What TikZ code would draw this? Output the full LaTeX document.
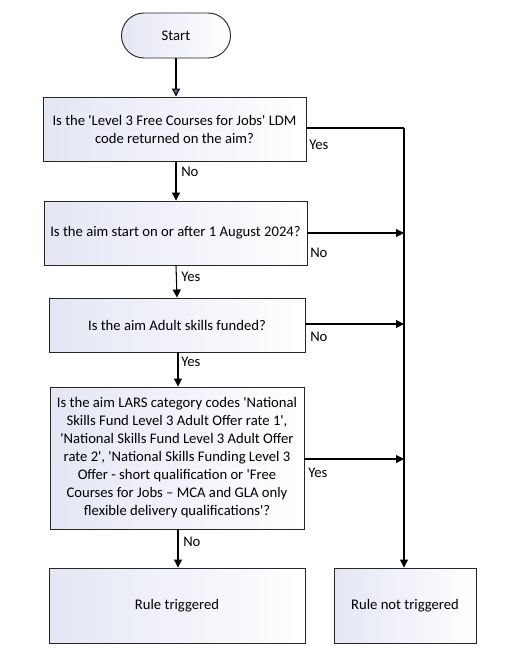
\documentclass[tikz,border=0pt]{standalone}
\usepackage{fontspec}
\setmainfont{Carlito}
\usetikzlibrary{arrows.meta,shapes.misc,calc}
\definecolor{boxtl}{HTML}{E4E6F4}
\definecolor{tipblue}{HTML}{4A6AA8}
\newcommand{\sq}{\textquotesingle}
\tikzset{
  base/.style={draw=black!85, line width=0.7pt, shading=axis, shading angle=135,
    left color=boxtl, right color=white, font=\fontsize{11pt}{13.5pt}\selectfont, align=center, inner sep=0pt},
  procbox/.style={base, rectangle},
  termbox/.style={base, rounded rectangle},
  conn/.style={draw=black, line width=0.8pt, -{Triangle[length=6pt,width=6pt]}},
  plainline/.style={draw=black, line width=0.8pt},
  lbl/.style={font=\fontsize{11pt}{13.5pt}\selectfont, inner sep=0pt, anchor=west},
}
\begin{document}
\begin{tikzpicture}[x=0.75pt,y=-0.75pt]
\useasboundingbox (0,0) rectangle (526,661);
\node[termbox, minimum width=109*0.75pt, minimum height=45*0.75pt] (start) at (176,35.5) {Start};
\node[procbox, minimum width=263*0.75pt, minimum height=64*0.75pt] (q1) at (174.5,129) {Is the \sq Level 3 Free Courses for Jobs\sq{} LDM\\code returned on the aim?};
\node[procbox, minimum width=263*0.75pt, minimum height=64*0.75pt] (q2) at (175.5,233) {Is the aim start on or after 1 August 2024?};
\node[procbox, minimum width=256*0.75pt, minimum height=54*0.75pt] (q3) at (177,325) {Is the aim Adult skills funded?};
\node[procbox, minimum width=254*0.75pt, minimum height=142*0.75pt] (q4) at (177,458) {Is the aim LARS category codes \sq National\\Skills Fund Level 3 Adult Offer rate 1\sq,\\\sq National Skills Fund Level 3 Adult Offer\\rate 2\sq, \sq National Skills Funding Level 3\\Offer - short qualification or \sq Free\\Courses for Jobs – MCA and GLA only\\flexible delivery qualifications\sq?};
\node[procbox, minimum width=256*0.75pt, minimum height=75*0.75pt] (rt) at (177,605.5) {Rule triggered};
\node[procbox, minimum width=142*0.75pt, minimum height=75*0.75pt] (rnt) at (405,605.5) {Rule not triggered};

\coordinate (c1) at (404,128);
\coordinate (c2) at (404,233);
\coordinate (c3) at (404,324);
\coordinate (c4) at (404,459);

\draw[plainline, -{Triangle[length=6pt,width=6pt,fill=tipblue]}] (start.south) -- (q1.north -| start.south);
\draw[conn] (q1.south -| 176,0) -- (q2.north -| 176,0);
\draw[conn] (q2.south -| 176,0) -- (q3.north -| 177,0);
\draw[conn] (q3.south -| 178,0) -- (q4.north -| 178,0);
\draw[conn] (q4.south -| 178,0) -- (rt.north -| 178,0);

\draw[plainline] (q1.east |- c1) -- (c1);
\draw[conn] (c1) -- (rnt.north -| c1);
\draw[conn] (q2.east |- c2) -- (c2);
\draw[conn] (q3.east |- c3) -- (c3);
\draw[conn] (q4.east |- c4) -- (c4);

\node[lbl] (l1) at (309,145) {Yes};
\node[lbl] (l2) at (181,172) {No};
\node[lbl] (l3) at (310,253) {No};
\node[lbl] (l4) at (181,277) {Yes};
\node[lbl] (l5) at (310,337) {No};
\node[lbl] (l6) at (181,362) {Yes};
\node[lbl] (l7) at (308,473) {Yes};
\node[lbl] (l8) at (183,542) {No};
\end{tikzpicture}
\end{document}
